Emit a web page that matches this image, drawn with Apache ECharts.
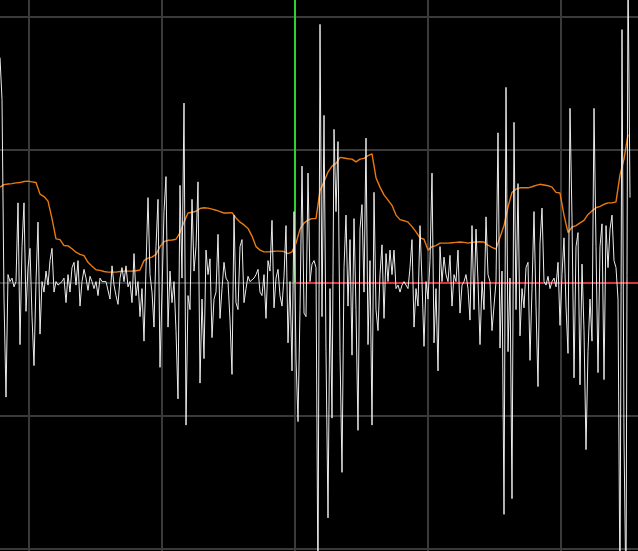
<!DOCTYPE html>
<html>
<head>
<meta charset="utf-8">
<script src="https://cdn.jsdelivr.net/npm/echarts@6.0.0/dist/echarts.min.js"></script>
<style>
html, body { margin: 0; padding: 0; background: #000; overflow: hidden; }
#scope { width: 638px; height: 551px; }
</style>
</head>
<body>
<div id="scope"></div>
<script>
// raw samples (white trace), one every 2 time units
var signal = [
    644, 524, -46, -326, 24, 4, 14, -11, 4, 229, -176, 104, 229, -81, 44, 99, -96, -236, 4, 174,
    -146, 4, -26, 34, -6, 64, 99, -26, 4, -6, -1, 4, 14, -56, 24, -26, 44, 59, -6, 64,
    -66, 4, 39, 14, -21, 19, 4, -16, 4, -36, 14, 4, -1, 4, 4,
    -46, 49, -6, -36, -61, 14, 44, 4, 49, -11, 4, -56, 84, -36, 4, -96, -16, -166, 44, 244,
    24, -26, -126, 104, 239, -241, -26, 204, 304, -126, 34, -56, 4, -136, -331, 279, 14, 514, -406, -36,
    -76, 239, 34, 104, 289, -286, -46, -216, 94, 24, 69, -156, -46,
    -26, 139, -101, -16, 59, 14, 4, -106, -261, 194, -56, -76, 104, 124, -56, -16, 19, 4, -1, 14,
    24, 39, -26, -36, 24, -101, 64, 34, 179, -71, 14, 39, -36, -66, 19, 164, -171, 4, -251, 204,
    -216, -396, -76, 334, -86, -96, 314, 4, 54, 64, 44,
    -896, 739, -96, 479, -196, -671, -16, -386, 439, 204, 404, -196, -541, 44, 194, -66, 124, -206, 184, -76,
    -421, 154, 224, -26, 414, -176, 64, -406, 259, -76, -136, 24, 109, -101, 84, 4, 94, 24, 94, -16,
    -6, -26, -6, 4, 4, -16, 44, 124, -126, -16, -66, 164, 4, -181,
    4, -46, 64, 314, -171, -16, -251, 104, 4, 74, 24, 4, 79, -66, 24, 4, 94, -86, -6, 4,
    24, -16, -106, 164, -76, 154, 4, -176, 4, -76, 189, 24, 4, -136, -66, 4, 429, -186, 34, -661,
    559, -196, 14, -616, 459, -76, 284, -151, -16, -71, 44, 59,
    -221, -16, 204, -66, -296, 114, 214, 4, -6, 19, -16, 4, 14, -11, 59, -121, 24, 129, -66, -201,
    499, 184, -271, 104, 144, -291, 54, -136, -476, -196, -46, -166, 499, 104, -256, 104, 169, -276, 164, 44,
    154, 194, 64, 44, -46, -896, 724, -446, -900, 904, 244
];

// smoothed level (orange trace), one every 4 time units
var envelope = [
    274, 281, 283, 284, 286, 287, 290, 291, 289, 287,
    254, 247, 234, 184, 126, 124, 107, 106, 98, 88,
    82, 78, 59, 48, 38, 36, 33, 31, 31, 31,
    33, 34, 34, 34, 35, 37, 64, 71, 74, 82,
    104, 118, 122, 123, 125, 144, 174, 200, 202, 205,
    213, 215, 214, 211, 208, 204, 200, 200, 201, 186,
    174, 166, 156, 134, 104, 94, 89, 89, 90, 91,
    91, 90, 84, 89, 114, 154, 171, 180, 184, 184,
    264, 289, 317, 334, 342, 359, 357, 355, 354, 346,
    354, 356, 364, 369, 301, 274, 252, 237, 222, 194,
    181, 178, 174, 161, 146, 129, 125, 94, 104, 107,
    114, 114, 114, 115, 116, 117, 116, 114, 116, 117,
    118, 117, 108, 102, 97, 131, 164, 217, 259, 268,
    272, 272, 272, 275, 279, 282, 280, 278, 274, 259,
    257, 194, 144, 160, 164, 172, 179, 196, 206, 215,
    219, 225, 229, 229, 232, 309, 354, 424
];

var tStart = -295;
var signalStep = 2;
var envelopeStep = 4;

// visible window and graticule
var tRange = [-295, 343];
var ampRange = [-765.7, 808.6];
var tDivs = [-266, -133, 0, 133, 266];
var ampDivs = [-760, -380, 0, 380, 760];

function toPoints(values, step) {
    var out = [];
    for (var i = 0; i < values.length; i++) out.push([tStart + i * step, values[i]]);
    return out;
}

var c = {
    grid: '#3a3a3a',
    signal: '#ececec',
    envelope: '#ea7a10',
    trigger: '#2fd02f',
    baseline: '#d8343f'
};

var gridLines = [];
tDivs.forEach(function (t) {
    gridLines.push([{ coord: [t, ampRange[0]] }, { coord: [t, ampRange[1]] }]);
});
ampDivs.forEach(function (a) {
    gridLines.push([{ coord: [tRange[0], a] }, { coord: [tRange[1], a] }]);
});

var chart = echarts.init(document.getElementById('scope'));
chart.setOption({
    animation: false,
    backgroundColor: '#000',
    grid: { left: 0, right: 0, top: 0, bottom: 0 },
    xAxis: {
        type: 'value', min: tRange[0], max: tRange[1],
        axisLine: { show: false }, axisTick: { show: false }, axisLabel: { show: false },
        splitLine: { show: false }
    },
    yAxis: {
        type: 'value', min: ampRange[0], max: ampRange[1],
        axisLine: { show: false }, axisTick: { show: false }, axisLabel: { show: false },
        splitLine: { show: false }
    },
    series: [
        {
            type: 'line', name: 'graticule', data: [[0, 0]], z: 1, silent: true,
            showSymbol: false, lineStyle: { opacity: 0 },
            markLine: {
                z: 1, silent: true, symbol: 'none', animation: false,
                label: { show: false },
                lineStyle: { color: c.grid, width: 2, type: 'solid' },
                data: gridLines
            }
        },
        {
            type: 'line', name: 'Trigger', data: [[0, 0], [0, ampRange[1]]], z: 2, silent: true,
            showSymbol: false, lineStyle: { color: c.trigger, width: 2 }
        },
        {
            type: 'line', name: 'Baseline', data: [[0, 0], [tRange[1], 0]], z: 2, silent: true,
            showSymbol: false, lineStyle: { color: c.baseline, width: 2 }
        },
        {
            type: 'line', name: 'Envelope', data: toPoints(envelope, envelopeStep), z: 3,
            showSymbol: false, silent: true,
            lineStyle: { color: c.envelope, width: 1.4 }
        },
        {
            type: 'line', name: 'Signal', data: toPoints(signal, signalStep), z: 4,
            showSymbol: false, silent: true, sampling: null,
            lineStyle: { color: c.signal, width: 1 }
        }
    ]
});
</script>
</body>
</html>
